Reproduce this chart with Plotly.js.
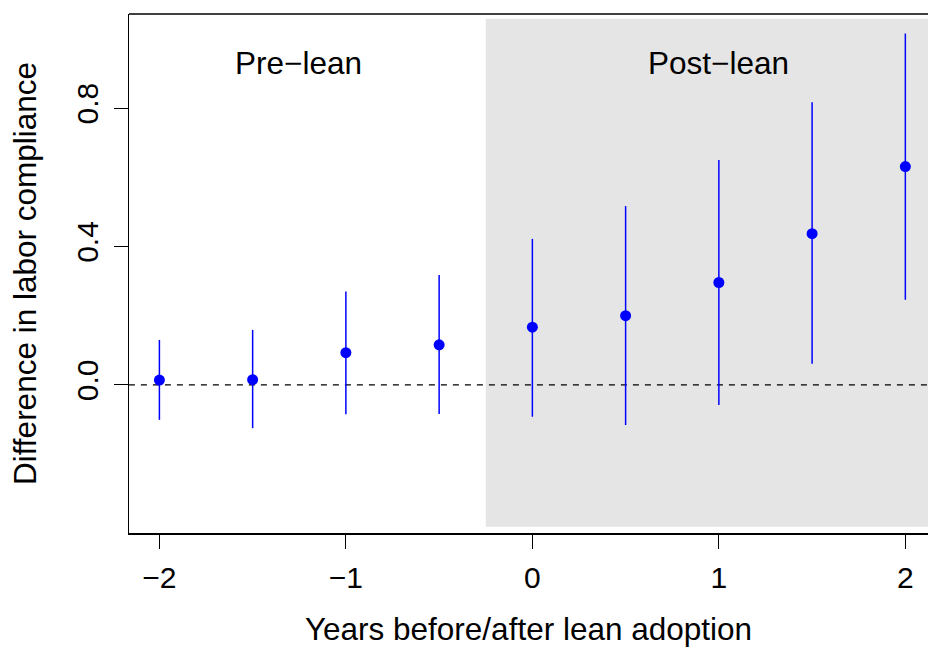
<!DOCTYPE html>
<html>
<head>
<meta charset="utf-8">
<script src="https://cdn.plot.ly/plotly-3.0.1.min.js"></script>
<style>html,body{margin:0;padding:0;background:#fff;}</style>
</head>
<body>
<div id="chart" style="width:928px;height:649px;"></div>
<script>
// Data
var years = [-2, -1.5, -1, -0.5, 0, 0.5, 1, 1.5, 2];
var estimate = [0.014, 0.015, 0.093, 0.116, 0.167, 0.200, 0.296, 0.437, 0.631];
var ciUpper = [0.130, 0.159, 0.270, 0.318, 0.422, 0.517, 0.650, 0.817, 1.016];
var ciLower = [-0.101, -0.125, -0.085, -0.084, -0.092, -0.116, -0.058, 0.061, 0.246];
var xTicks = [-2, -1, 0, 1, 2];
var yTicks = [0.0, 0.4, 0.8];
var yTickLabels = ["0.0", "0.4", "0.8"];
var periodLabels = ["Pre\u2212lean", "Post\u2212lean"];
var periodLabelX = [-1.255, 1.0];
var postStart = -0.25;

var errPlus = estimate.map(function(v, i){ return ciUpper[i] - v; });
var errMinus = estimate.map(function(v, i){ return v - ciLower[i]; });

var FONT = "Liberation Sans, Arial, Helvetica, sans-serif";

var trace = {
  x: years, y: estimate, type: "scatter", mode: "markers",
  marker: {color: "#0000FF", size: 11},
  error_y: {type: "data", symmetric: false, array: errPlus, arrayminus: errMinus,
            color: "#0000FF", thickness: 1.5, width: 0},
  hoverinfo: "x+y", showlegend: false
};

var layout = {
  width: 928, height: 649,
  margin: {l: 129, r: 0, t: 14, b: 116, pad: 0},
  paper_bgcolor: "#ffffff", plot_bgcolor: "#ffffff",
  font: {family: FONT, size: 30, color: "#000"},
  xaxis: {
    range: [-2.163, 2.1215], tickvals: xTicks, ticks: "outside", ticklen: 14, tickwidth: 1,
    tickcolor: "#000", showline: true, linecolor: "#000", linewidth: 1.5, showgrid: false,
    zeroline: false, tickfont: {size: 30}, ticklabelstandoff: 3,
    title: {text: "Years before/after lean adoption", font: {size: 31.5}, standoff: 25}
  },
  yaxis: {
    range: [-0.428, 1.072], tickvals: yTicks, ticktext: yTickLabels, ticks: "outside", ticklen: 14,
    tickwidth: 1, tickcolor: "#000", showline: true, linecolor: "#000", linewidth: 1.5,
    showgrid: false, zeroline: false, tickangle: -90, tickfont: {size: 30}, ticklabelstandoff: 4,
    title: {text: "Difference in labor compliance", font: {size: 31.5}, standoff: 24}
  },
  shapes: [
    {type: "rect", xref: "x", yref: "y", x0: postStart, x1: 3, y0: -0.41, y1: 1.058,
     fillcolor: "#E5E5E5", line: {width: 0}, layer: "below"},
    {type: "line", xref: "x", yref: "y", x0: -3, x1: 3, y0: 0, y1: 0,
     line: {color: "#000", width: 1.3, dash: "6px,6px"}, layer: "below"},
    {type: "line", xref: "paper", yref: "paper", x0: 0, x1: 1, y0: 1, y1: 1,
     line: {color: "#000", width: 1.5}}
  ],
  annotations: periodLabels.map(function(t, i){
    return {x: periodLabelX[i], y: 0.93, xref: "x", yref: "y", text: t, showarrow: false,
            font: {size: 31.5, family: FONT, color: "#000"}};
  })
};

Plotly.newPlot("chart", [trace], layout, {displayModeBar: false, staticPlot: true});
</script>
</body>
</html>
